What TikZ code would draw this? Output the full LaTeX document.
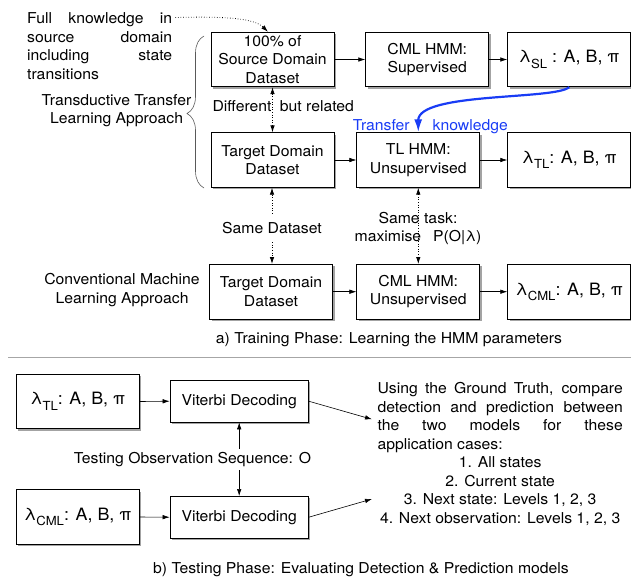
\documentclass[tikz,border=0pt]{standalone}
\usepackage{fontspec}
\setmainfont{TeX Gyre Heros}[FakeStretch=1.05]
\usetikzlibrary{arrows.meta,shadows,decorations.pathreplacing}

\definecolor{xferblue}{RGB}{25,60,245}
\newcommand{\lamsub}[1]{λ\raisebox{-5.5pt}{\fontsize{12.5}{13}\selectfont #1}}

\tikzset{
	box/.style={draw, fill=white, line width=0.8pt, align=center,
		minimum width=123pt, minimum height=54.5pt, inner sep=2pt,
		drop shadow={shadow xshift=2pt, shadow yshift=-2pt, fill=black!45, opacity=0.8}},
	parbox/.style={box, font=\fontsize{17}{20}\selectfont},
	vitbox/.style={box, minimum width=138.3pt, minimum height=41.5pt},
	arr/.style={-{Latex[length=7pt,width=4.5pt]}, line width=0.6pt},
	dotarr/.style={arr, dotted, line width=0.8pt},
	dotboth/.style={dotarr, {Latex[length=7pt,width=4.5pt]}-{Latex[length=7pt,width=4.5pt]}},
	xfer/.style={-{Latex[length=13pt,width=8pt]}, line width=2.2pt, xferblue},
	sepline/.style={line width=1.2pt, black!35}
}

\begin{document}
\begin{tikzpicture}[x=1pt,y=-1pt,font=\fontsize{15}{18.5}\selectfont]
	\useasboundingbox (0,0) rectangle (631,582);

	% a) training phase
	\node[box] (src) at (272.5,59.5) {100\% of\\Source Domain\\Dataset};
	\node[box] (cmlsup) at (427.2,59.5) {CML HMM:\\Supervised};
	\node[parbox] (lsl) at (569.2,59.5) {\lamsub{SL} : A, B, π};
	\node[box] (tgt) at (272.5,160) {Target Domain\\Dataset};
	\node[box] (tlhmm) at (418.3,160) {TL HMM:\\Unsupervised};
	\node[parbox] (ltl) at (569.2,160) {\lamsub{TL}: A, B, π};
	\node[box] (tgtcml) at (271,291.7) {Target Domain\\Dataset};
	\node[box] (cmlun) at (418.3,291.7) {CML HMM:\\Unsupervised};
	\node[parbox] (lcml) at (569.2,291.7) {\lamsub{CML}: A, B, π};

	\node[align=justify, text width=145pt, inner sep=0pt, anchor=north west] (fullk) at (27,12.5)
		{Full knowledge in\linebreak source domain\linebreak including state\linebreak transitions};
	\node[align=center] (ttl) at (116.5,110.5) {Transductive Transfer\\Learning Approach};
	\node[align=center] (cmlapp) at (122,290) {Conventional Machine\\Learning Approach};
	\node[anchor=base west] (diff) at (209,111.7) {Different\hspace{4pt} but related};
	\node[anchor=base] (sameds) at (272,233.3) {Same Dataset};
	\node[align=center] (sametask) at (418,228.4) {Same task:\\maximise\hspace{12pt}P(O|λ)};
	\node[anchor=base west, text=xferblue] (xferlbl) at (349.3,130) {Transfer\hspace{23pt}knowledge};
	\node[anchor=base] (capa) at (389,343.3) {a) Training Phase: Learning the HMM parameters};

	\draw[arr] (src.east) -- (cmlsup.west);
	\draw[arr] (cmlsup.east) -- (lsl.west);
	\draw[arr] (tgt.east) -- (tlhmm.west);
	\draw[arr] (tlhmm.east) -- (ltl.west);
	\draw[arr] (tgtcml.east) -- (cmlun.west);
	\draw[arr] (cmlun.east) -- (lcml.west);

	\draw[dotboth] (src.south) -- (tgt.north);
	\draw[dotarr, shorten <=5pt] (sameds.north) -- (sameds.north |- tgt.south);
	\draw[dotarr, shorten <=5pt] (sameds.south) -- (sameds.south |- tgtcml.north);
	\draw[dotboth] (tlhmm.south) -- (cmlun.north);
	\draw[dotarr] ([shift={(3,5)}]fullk.north east) .. controls (230,16) and (255,19) .. ([xshift=-4.5pt]src.north);
	\draw[xfer] (lsl.south) .. controls (555,100) and (418,92) .. (tlhmm.north);
	\draw[decorate, decoration={brace, amplitude=17pt, aspect=0.49}, black!65, line width=0.6pt] (204,188) -- (204,36);

	\draw[sepline] (8,357.3) -- (631,357.3);

	% b) testing phase
	\node[parbox] (ltlb) at (77.7,401.5) {\lamsub{TL}: A, B, π};
	\node[vitbox] (vit1) at (239.2,401.2) {Viterbi Decoding};
	\node[parbox] (lcmlb) at (77.7,517) {\lamsub{CML}: A, B, π};
	\node[vitbox] (vit2) at (239.2,517.2) {Viterbi Decoding};
	\node[anchor=base] (obs) at (192.5,463.3) {Testing Observation Sequence: O};
	\node[align=justify, text width=245.3pt, inner sep=0pt, anchor=north west] (eval) at (377.3,382.3)
		{Using the Ground Truth, compare\linebreak detection and prediction between\linebreak
		the two models for these\linebreak application cases:\par
		\centering 1. All states\par 2. Current state\par 3. Next state: Levels 1, 2, 3\par
		4. Next observation: Levels 1, 2, 3\par};
	\coordinate (evalin1) at (372,419.3);
	\coordinate (evalin2) at (372,499);
	\node[anchor=base] (capb) at (361,573.3) {b) Testing Phase: Evaluating Detection \& Prediction models};

	\draw[arr] (ltlb.east) -- (vit1.west);
	\draw[arr] (lcmlb.east) -- (vit2.west);
	\draw[arr] (obs.north -| vit1.south) -- (vit1.south);
	\draw[arr] (obs.south -| vit2.north) -- (vit2.north);
	\draw[arr] (vit1.east) -- (evalin1);
	\draw[arr] (vit2.east) -- (evalin2);
\end{tikzpicture}
\end{document}
